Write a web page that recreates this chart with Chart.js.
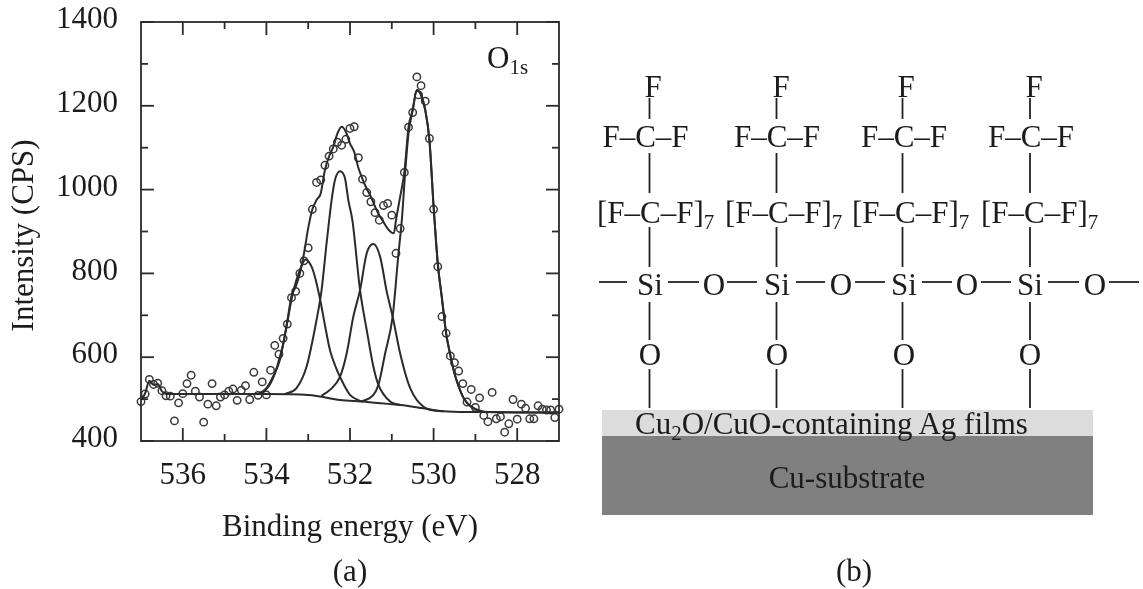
<!DOCTYPE html>
<html>
<head>
<meta charset="utf-8">
<title>O1s spectrum</title>
<script src="https://cdn.jsdelivr.net/npm/chart.js@4/dist/chart.umd.min.js"></script>
<style>
  html, body { margin: 0; padding: 0; background: #fff; overflow: hidden; }
  #wrap { position: relative; width: 1143px; height: 589px; filter: blur(0.45px); }
  #wrap canvas, #wrap svg { position: absolute; left: 0; top: 0; }
  svg text { font-family: "Liberation Serif", serif; font-size: 31px; fill: #1c1c1c; }
  svg .line { stroke: #222; stroke-width: 1.8; }
</style>
</head>
<body>
<div id="wrap">
  <canvas id="spectrum" width="1143" height="589"></canvas>
  <svg id="scheme" width="1143" height="589"></svg>
</div>
<script>
// Axis ticks
const xMajorTicks = [536, 534, 532, 530, 528];
const xMinorTicks = [535, 533, 531, 529];
const yMajorTicks = [400, 600, 800, 1000, 1200, 1400];
const yMinorTicks = [500, 700, 900, 1100, 1300];

// Measured points (open circles)
const measuredEnergy = [
  537.0, 536.9, 536.8, 536.7, 536.6, 536.5, 536.4, 536.3, 536.2, 536.1,
  536.0, 535.9, 535.8, 535.7, 535.6, 535.5, 535.4, 535.3, 535.2, 535.1,
  535.0, 534.9, 534.8, 534.7, 534.6, 534.5, 534.4, 534.3, 534.2, 534.1,
  534.0, 533.9, 533.8, 533.7, 533.6, 533.5, 533.4, 533.3, 533.2, 533.1,
  533.0, 532.9, 532.8, 532.7, 532.6, 532.5, 532.4, 532.3, 532.2, 532.1,
  532.0, 531.9, 531.8, 531.7, 531.6, 531.5, 531.4, 531.3, 531.2, 531.1,
  531.0, 530.9, 530.8, 530.7, 530.6, 530.5, 530.4, 530.36, 530.3, 530.2,
  530.1, 530.0, 529.9, 529.8, 529.7, 529.6, 529.5, 529.4, 529.3, 529.2,
  529.1, 529.0, 528.9, 528.8, 528.7, 528.6, 528.5, 528.4, 528.3, 528.2,
  528.1, 528.0, 527.9, 527.8, 527.7, 527.6, 527.5, 527.4, 527.3, 527.2,
  527.1, 527.0
];
const measuredCounts = [
  494, 512, 547, 535, 538, 520, 508, 507, 448, 491,
  513, 537, 557, 519, 505, 445, 488, 537, 484, 505,
  510, 519, 524, 497, 521, 532, 499, 564, 509, 541,
  510, 569, 628, 607, 645, 679, 742, 757, 800, 830,
  861, 953, 1017, 1023, 1058, 1080, 1097, 1113, 1106, 1120,
  1146, 1150, 1076, 1025, 993, 971, 945, 927, 962, 967,
  939, 848, 907, 1041, 1149, 1184, 1269, 1226, 1248, 1211,
  1122, 953, 816, 697, 657, 603, 587, 567, 537, 493,
  523, 480, 503, 461, 446, 516, 453, 458, 421, 441,
  499, 452, 488, 478, 453, 453, 484, 476, 474, 474,
  456, 476
];

// Overall fit envelope
const fitEnergy = [
  537.0, 536.9, 536.8, 536.7, 536.6, 536.5, 536.4, 535.0, 534.2, 534.0,
  533.9, 533.8, 533.7, 533.6, 533.5, 533.4, 533.3, 533.2, 533.1, 533.0,
  532.9, 532.8, 532.7, 532.6, 532.5, 532.4, 532.3, 532.2, 532.1, 532.0,
  531.9, 531.8, 531.7, 531.6, 531.5, 531.4, 531.3, 531.2, 531.1, 531.0,
  530.95, 530.9, 530.8, 530.7, 530.6, 530.5, 530.4, 530.3, 530.2, 530.1,
  530.0, 529.9, 529.8, 529.7, 529.6, 529.5, 529.4, 529.3, 529.2, 529.1,
  529.0, 528.8, 527.0
];
const fitCounts = [
  498, 514, 544, 534, 536, 519, 512, 512, 512, 524,
  538, 560, 593, 631, 685, 746, 768, 800, 848, 908,
  953, 975, 991, 1047, 1079, 1102, 1134, 1150, 1138, 1110,
  1090, 1052, 1025, 1002, 983, 959, 939, 923, 907, 897,
  896, 927, 983, 1041, 1149, 1190, 1238, 1226, 1190, 1118,
  960, 824, 740, 657, 605, 561, 530, 506, 491, 482,
  476, 470, 468
];

// Fitted component peaks
const peak1Energy = [534.2, 534.0, 533.84, 533.68, 533.52, 533.36, 533.2, 533.06, 532.92, 532.84, 532.72, 532.6, 532.48, 532.36, 532.24, 532.0, 531.72];
const peak1Counts = [512, 526, 554, 593, 673, 756, 808, 833, 816, 792, 740, 677, 617, 581, 553, 510, 494];
const peak2Energy = [533.56, 533.28, 533.04, 532.8, 532.68, 532.56, 532.44, 532.36, 532.24, 532.12, 532.04, 531.94, 531.76, 531.6, 531.44, 531.32, 531.04, 530.8];
const peak2Counts = [512, 526, 577, 689, 760, 872, 975, 1023, 1044, 1027, 975, 925, 760, 665, 577, 534, 494, 486];
const peak3Energy = [532.68, 532.48, 532.24, 532.08, 531.92, 531.76, 531.6, 531.44, 531.28, 531.12, 530.98, 530.8, 530.56, 530.24, 529.92, 529.76];
const peak3Counts = [508, 522, 553, 609, 697, 760, 848, 870, 840, 756, 697, 609, 526, 482, 472, 471];
const peak4Energy = [531.72, 531.44, 531.32, 531.16, 530.98, 530.84, 530.76, 530.68, 530.6, 530.5, 530.4, 530.3, 530.2, 530.1, 530.0, 529.9, 529.8, 529.7, 529.6, 529.5, 529.4, 529.3, 529.2, 529.1, 529.0, 528.8];
const peak4Counts = [494, 510, 534, 609, 697, 848, 927, 1041, 1134, 1190, 1238, 1226, 1190, 1118, 960, 824, 740, 657, 605, 561, 530, 506, 491, 482, 476, 470];

// Background line
const backgroundEnergy = [536.4, 534.0, 533.0, 532.72, 532.24, 531.72, 530.8, 530.24, 529.76, 529.04, 527.0];
const backgroundCounts = [512, 512, 510, 506, 498, 494, 486, 478, 471, 469, 468];

const INK = '#2b2b2b';
const SERIF = '"Liberation Serif", serif';

const toPoints = (xs, ys) => xs.map((x, i) => ({ x, y: ys[i] }));

const curve = (label, xs, ys) => ({
  label,
  data: toPoints(xs, ys),
  borderColor: INK,
  borderWidth: 2,
  pointRadius: 0,
  cubicInterpolationMode: 'monotone',
  fill: false
});

// Inward ticks on all four sides, plus the frame
const frameTicks = {
  id: 'frameTicks',
  afterDraw(chart) {
    const { ctx, chartArea: a, scales } = chart;
    ctx.save();
    ctx.strokeStyle = INK;
    ctx.lineWidth = 1.8;
    ctx.strokeRect(a.left, a.top, a.right - a.left, a.bottom - a.top);
    const tick = (x1, y1, x2, y2) => {
      ctx.beginPath();
      ctx.moveTo(x1, y1);
      ctx.lineTo(x2, y2);
      ctx.stroke();
    };
    const drawX = (values, len) => values.forEach(v => {
      const px = scales.x.getPixelForValue(v);
      tick(px, a.bottom, px, a.bottom - len);
      tick(px, a.top, px, a.top + len);
    });
    const drawY = (values, len) => values.forEach(v => {
      const py = scales.y.getPixelForValue(v);
      tick(a.left, py, a.left + len, py);
      tick(a.right, py, a.right - len, py);
    });
    drawX(xMajorTicks, 13);
    drawX(xMinorTicks, 7);
    drawY(yMajorTicks, 13);
    drawY(yMinorTicks, 7);
    ctx.restore();
  }
};

new Chart(document.getElementById('spectrum'), {
  type: 'line',
  data: {
    datasets: [
      curve('Fit', fitEnergy, fitCounts),
      curve('Peak 1', peak1Energy, peak1Counts),
      curve('Peak 2', peak2Energy, peak2Counts),
      curve('Peak 3', peak3Energy, peak3Counts),
      curve('Peak 4', peak4Energy, peak4Counts),
      curve('Background', backgroundEnergy, backgroundCounts),
      {
        label: 'Measured',
        data: toPoints(measuredEnergy, measuredCounts),
        showLine: false,
        pointRadius: 3.7,
        pointBorderWidth: 1.5,
        pointBorderColor: '#3a3a3a',
        pointBackgroundColor: 'rgba(255,255,255,0)',
        clip: false
      }
    ]
  },
  options: {
    responsive: false,
    animation: false,
    events: [],
    layout: { padding: { top: 22, right: 584, left: 0, bottom: 0 } },
    plugins: { legend: { display: false }, tooltip: { enabled: false } },
    scales: {
      x: {
        type: 'linear',
        reverse: true,
        min: 527,
        max: 537,
        afterBuildTicks: s => { s.ticks = xMajorTicks.map(value => ({ value })); },
        afterFit: s => { s.height = 148; s.paddingLeft = 0; s.paddingRight = 0; },
        grid: { display: false },
        border: { display: false },
        ticks: {
          autoSkip: false,
          maxRotation: 0,
          padding: 8,
          color: '#1c1c1c',
          font: { family: SERIF, size: 31 },
          callback: v => String(v)
        },
        title: {
          display: true,
          text: 'Binding energy (eV)',
          color: '#1c1c1c',
          font: { family: SERIF, size: 31 },
          padding: { top: 0, bottom: 43 }
        }
      },
      y: {
        type: 'linear',
        min: 400,
        max: 1400,
        afterBuildTicks: s => { s.ticks = yMajorTicks.map(value => ({ value })); },
        afterFit: s => { s.width = 141; s.paddingTop = 0; s.paddingBottom = 0; },
        grid: { display: false },
        border: { display: false },
        ticks: {
          autoSkip: false,
          padding: 15,
          labelOffset: -2,
          color: '#1c1c1c',
          font: { family: SERIF, size: 31 },
          callback: v => String(v)
        },
        title: {
          display: true,
          text: 'Intensity (CPS)\u00a0',
          color: '#1c1c1c',
          font: { family: SERIF, size: 31 },
          padding: { top: 6, bottom: 0 }
        }
      }
    }
  },
  plugins: [frameTicks]
});

// Panel (b) and the captions
const svg = document.getElementById('scheme');
const NS = 'http://www.w3.org/2000/svg';

function line(x1, y1, x2, y2) {
  const el = document.createElementNS(NS, 'line');
  el.setAttribute('class', 'line');
  el.setAttribute('x1', x1); el.setAttribute('y1', y1);
  el.setAttribute('x2', x2); el.setAttribute('y2', y2);
  svg.appendChild(el);
}

function rect(x, y, w, h, color) {
  const el = document.createElementNS(NS, 'rect');
  el.setAttribute('x', x); el.setAttribute('y', y);
  el.setAttribute('width', w); el.setAttribute('height', h);
  el.setAttribute('fill', color);
  svg.appendChild(el);
}

// parts: plain strings, or [text] for a subscript
function text(x, y, parts, anchor, size) {
  const el = document.createElementNS(NS, 'text');
  el.setAttribute('x', x); el.setAttribute('y', y);
  el.setAttribute('text-anchor', anchor || 'start');
  if (size) el.style.fontSize = size + 'px';
  let sub = false;
  [].concat(parts).forEach(p => {
    const span = document.createElementNS(NS, 'tspan');
    const isSub = Array.isArray(p);
    span.textContent = isSub ? p[0] : p;
    if (isSub) { span.setAttribute('dy', 6); span.style.fontSize = '21px'; }
    else if (sub) span.setAttribute('dy', -6);
    sub = isSub;
    el.appendChild(span);
  });
  svg.appendChild(el);
}

rect(602, 410, 491, 26, '#dcdcdc');
rect(602, 436, 491, 79, '#808080');

const bondX = [649.5, 776.5, 902.5, 1030];
const topFX = [653, 781, 906, 1034];
const cfX = [645.5, 777, 904, 1031];
const chainX = [597, 725, 852, 981];
const siX = [650, 777, 904, 1030];
const bridgeX = [714, 841, 967, 1095];

bondX.forEach((x, i) => {
  line(x, 98, x, 119);
  line(x, 153, x, 193);
  line(x, 227, x, 267);
  line(x, 302, x, 340);
  line(x, 369, x, 408);
  text(topFX[i], 97, 'F', 'middle');
  text(cfX[i], 147, 'F\u2013C\u2013F', 'middle');
  text(chainX[i], 223, ['[F\u2013C\u2013F]', ['7']]);
  text(siX[i], 295, 'Si', 'middle');
  text(bridgeX[i], 295, 'O', 'middle');
  text(siX[i], 365, 'O', 'middle');
});

[[599, 627], [668, 699], [727, 757], [796, 825], [855, 885], [922, 952], [981, 1011], [1048, 1079], [1109, 1139]]
  .forEach(s => line(s[0], 282, s[1], 282));

text(635, 434, ['Cu', ['2'], 'O/CuO-containing Ag films']);
text(847, 488, 'Cu-substrate', 'middle');
text(487, 68, ['O', ['1s']], 'start', 31);
text(350, 581, '(a)', 'middle', 31);
text(854, 581, '(b)', 'middle', 31);
</script>
</body>
</html>
